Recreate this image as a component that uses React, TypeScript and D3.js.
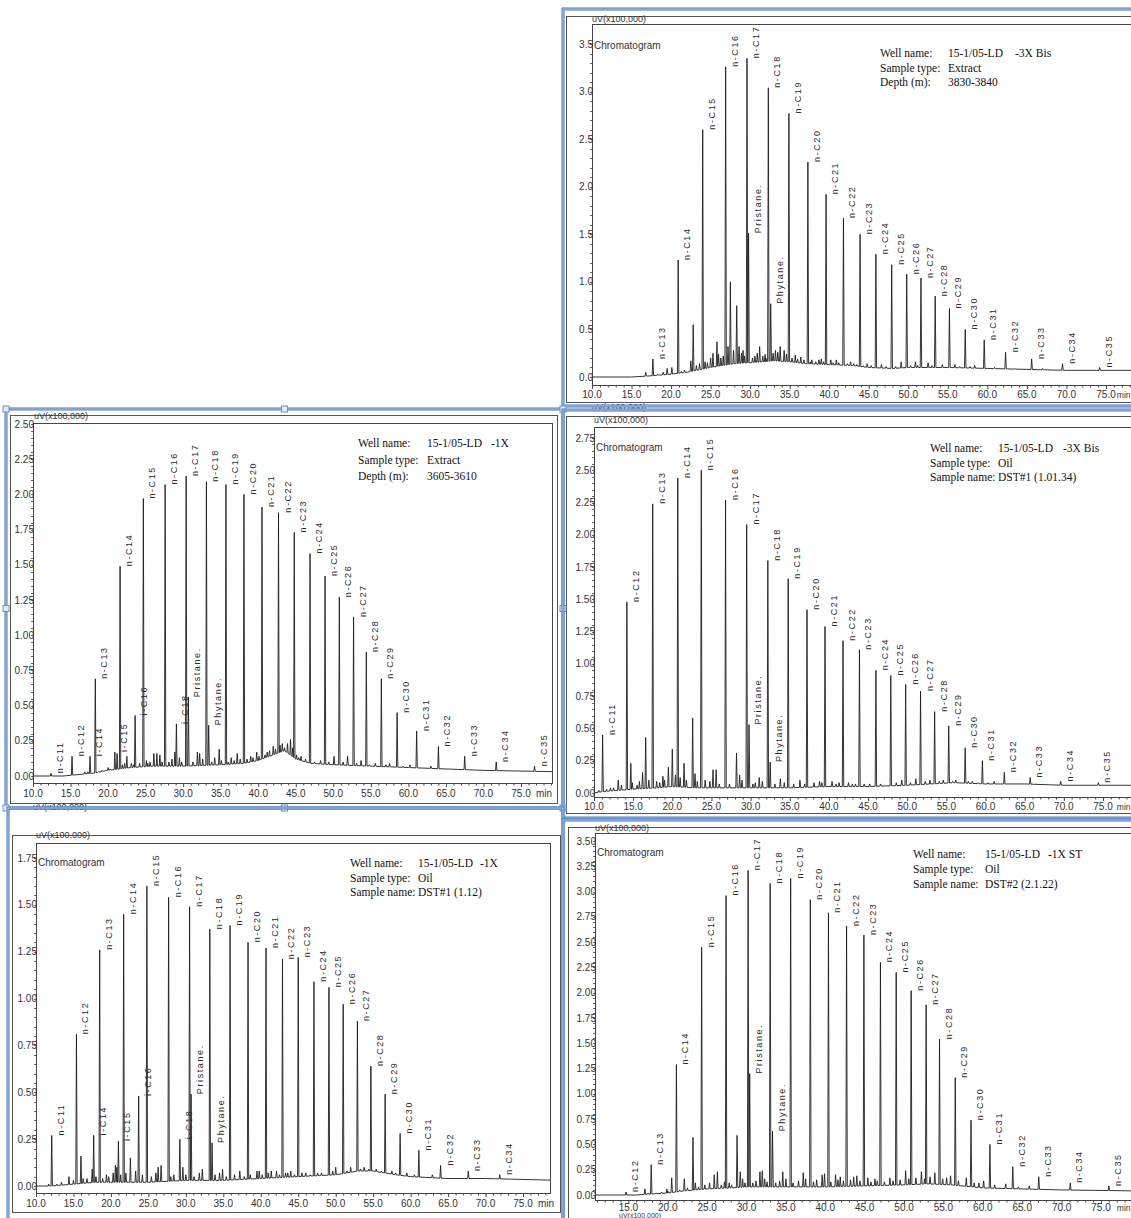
import React, { useEffect, useRef } from 'react';
import * as d3 from 'd3';

type Pt = [number, number];

// ---- Panel A: 15-1/05-LD -3X Bis, extract ----
const aLabels = ['n-C13', 'n-C14', 'n-C15', 'n-C16', 'n-C17', 'Pristane.', 'n-C18', 'Phytane.', 'n-C19', 'n-C20', 'n-C21', 'n-C22', 'n-C23', 'n-C24', 'n-C25', 'n-C26', 'n-C27', 'n-C28', 'n-C29', 'n-C30', 'n-C31', 'n-C32', 'n-C33', 'n-C34', 'n-C35'];
const aTimes = [17.7, 20.9, 24.0, 26.9, 29.6, 29.8, 32.3, 32.6, 34.9, 37.3, 39.6, 41.8, 43.9, 45.9, 47.9, 49.8, 51.6, 53.4, 55.2, 57.2, 59.6, 62.3, 65.6, 69.5, 74.2];
const aHeights = [0.19, 1.23, 2.6, 3.26, 3.35, 1.51, 3.04, 0.77, 2.77, 2.26, 1.92, 1.67, 1.5, 1.29, 1.18, 1.08, 1.04, 0.85, 0.72, 0.5, 0.39, 0.26, 0.19, 0.14, 0.1];
const aMinor: Pt[] = [[16.8, 0.05], [19.5, 0.09], [20.1, 0.1], [22.5, 0.17], [22.8, 0.55], [24.3, 0.16], [25.3, 0.25], [25.8, 0.37], [26.3, 0.2], [27.2, 0.32], [27.5, 1.0], [28.3, 0.75], [28.6, 0.32], [29.1, 0.28], [30.9, 0.25], [31.2, 0.32], [31.6, 0.22], [33.2, 0.28], [33.8, 0.32], [34.3, 0.28], [35.7, 0.23], [36.4, 0.21], [37.8, 0.18], [38.7, 0.18], [39.0, 0.19], [40.2, 0.18], [40.9, 0.18], [42.7, 0.16], [43.1, 0.14], [44.8, 0.14], [46.6, 0.13], [49.1, 0.16], [50.9, 0.16], [52.5, 0.15], [54.3, 0.13], [55.9, 0.13], [58.4, 0.12], [60.9, 0.1], [63.5, 0.09], [67.0, 0.09]];
const aNoise: Pt[] = [[18.3, 0.03], [19.0, 0.05], [21.3, 0.06], [21.7, 0.07], [23.2, 0.12], [23.6, 0.14], [24.6, 0.15], [25.0, 0.2], [26.0, 0.24], [26.6, 0.22], [27.9, 0.28], [28.9, 0.25], [29.3, 0.22], [30.3, 0.2], [30.6, 0.22], [31.9, 0.24], [32.0, 0.2], [32.9, 0.25], [33.5, 0.26], [34.6, 0.24], [35.3, 0.2], [36.0, 0.19], [36.8, 0.18], [37.6, 0.16], [38.3, 0.16], [39.3, 0.16], [40.5, 0.15], [41.2, 0.15], [42.3, 0.14], [43.5, 0.13], [44.3, 0.12], [45.3, 0.12], [47.2, 0.11], [48.4, 0.11], [50.3, 0.12], [51.2, 0.12], [53.0, 0.12], [56.5, 0.11], [57.8, 0.11]];
const aBase: Pt[] = [[10, 0], [15, 0], [17, 0.01], [20, 0.03], [22, 0.05], [25, 0.1], [28, 0.14], [30, 0.15], [33, 0.17], [35, 0.16], [37, 0.14], [40, 0.13], [43, 0.12], [45, 0.1], [48, 0.09], [50, 0.1], [55, 0.1], [60, 0.09], [65, 0.08], [70, 0.07], [80, 0.07]];
const aInfo = [['Well name:', '15-1/05-LD', '-3X Bis'], ['Sample type:', 'Extract'], ['Depth (m):', '3830-3840']];

// ---- Panel B: 15-1/05-LD -1X, extract ----
const bLabels = ['n-C11', 'n-C12', 'i-C14', 'n-C13', 'i-C15', 'n-C14', 'i-C16', 'n-C15', 'n-C16', 'i-C18', 'n-C17', 'Pristane.', 'n-C18', 'Phytane.', 'n-C19', 'n-C20', 'n-C21', 'n-C22', 'n-C23', 'n-C24', 'n-C25', 'n-C26', 'n-C27', 'n-C28', 'n-C29', 'n-C30', 'n-C31', 'n-C32', 'n-C33', 'n-C34', 'n-C35'];
const bTimes = [12.4, 15.2, 17.6, 18.3, 20.9, 21.6, 23.6, 24.7, 27.6, 29.1, 30.4, 30.7, 33.1, 33.4, 35.7, 38.1, 40.5, 42.7, 44.8, 46.9, 48.9, 50.8, 52.7, 54.4, 56.4, 58.5, 61.1, 64.0, 67.5, 71.7, 76.8];
const bHeights = [0.02, 0.14, 0.14, 0.69, 0.17, 1.49, 0.43, 1.97, 2.07, 0.37, 2.13, 0.56, 2.09, 0.36, 2.07, 2.0, 1.91, 1.87, 1.73, 1.58, 1.42, 1.27, 1.13, 0.88, 0.69, 0.45, 0.32, 0.21, 0.14, 0.1, 0.07];
const bMinor: Pt[] = [[16.9, 0.03], [19.7, 0.04], [20.3, 0.05], [21.2, 0.16], [22.5, 0.14], [23.1, 0.09], [25.1, 0.11], [25.6, 0.1], [26.1, 0.16], [26.5, 0.16], [26.9, 0.15], [28.9, 0.17], [29.5, 0.13], [31.9, 0.17], [32.2, 0.16], [34.2, 0.13], [34.8, 0.19], [36.4, 0.13], [37.2, 0.16], [39.0, 0.14], [39.8, 0.17], [41.5, 0.18], [42.0, 0.21], [43.2, 0.23], [43.9, 0.23], [44.3, 0.26], [45.7, 0.14], [46.3, 0.12], [48.3, 0.11], [50.1, 0.14], [51.9, 0.14], [53.7, 0.11], [55.6, 0.09], [57.5, 0.09], [60.2, 0.08], [63.0, 0.07]];
const bNoise: Pt[] = [[17.3, 0.03], [18.7, 0.03], [19.2, 0.04], [20.0, 0.06], [21.9, 0.08], [22.2, 0.09], [23.4, 0.08], [24.2, 0.09], [25.3, 0.09], [27.2, 0.1], [28.1, 0.1], [28.5, 0.12], [29.8, 0.1], [31.3, 0.1], [32.6, 0.12], [33.8, 0.1], [35.1, 0.11], [36.0, 0.1], [36.8, 0.11], [37.6, 0.12], [38.5, 0.12], [39.3, 0.13], [40.1, 0.14], [40.9, 0.15], [41.2, 0.17], [42.3, 0.19], [42.9, 0.22], [43.5, 0.2], [44.6, 0.2], [45.1, 0.15], [45.4, 0.13], [47.5, 0.1], [49.4, 0.1], [51.3, 0.1], [53.1, 0.09], [54.8, 0.08], [57.0, 0.08], [59.3, 0.07]];
const bBase: Pt[] = [[10, 0], [14, 0], [16, 0.01], [18, 0.02], [20, 0.04], [23, 0.06], [26, 0.07], [30, 0.07], [35, 0.08], [38, 0.09], [40, 0.11], [42, 0.15], [43.5, 0.18], [45, 0.12], [47, 0.09], [50, 0.08], [55, 0.07], [60, 0.06], [65, 0.05], [70, 0.04], [80, 0.03]];
const bInfo = [['Well name:', '15-1/05-LD', '-1X'], ['Sample type:', 'Extract'], ['Depth (m):', '3605-3610']];

// ---- Panel C: 15-1/05-LD -3X Bis, oil DST#1 ----
const cLabels = ['n-C11', 'n-C12', 'n-C13', 'n-C14', 'n-C15', 'n-C16', 'n-C17', 'Pristane.', 'n-C18', 'Phytane.', 'n-C19', 'n-C20', 'n-C21', 'n-C22', 'n-C23', 'n-C24', 'n-C25', 'n-C26', 'n-C27', 'n-C28', 'n-C29', 'n-C30', 'n-C31', 'n-C32', 'n-C33', 'n-C34', 'n-C35'];
const cTimes = [11.1, 14.2, 17.5, 20.7, 23.7, 26.8, 29.5, 29.8, 32.2, 32.5, 34.8, 37.2, 39.5, 41.8, 43.9, 46.0, 47.9, 49.8, 51.7, 53.5, 55.3, 57.4, 59.6, 62.4, 65.7, 69.6, 74.4];
const cHeights = [0.45, 1.48, 2.24, 2.44, 2.5, 2.27, 2.08, 0.53, 1.8, 0.24, 1.66, 1.42, 1.29, 1.18, 1.11, 0.95, 0.91, 0.84, 0.79, 0.63, 0.52, 0.35, 0.25, 0.16, 0.12, 0.09, 0.08];
const cMinor: Pt[] = [[12.1, 0.04], [13.1, 0.1], [13.5, 0.06], [14.7, 0.23], [15.5, 0.06], [16.2, 0.16], [16.6, 0.43], [18.0, 0.09], [18.8, 0.13], [19.5, 0.2], [20.0, 0.34], [20.4, 0.14], [21.5, 0.23], [22.6, 0.58], [22.9, 0.15], [25.2, 0.18], [25.6, 0.18], [28.2, 0.31], [28.6, 0.14], [31.1, 0.12], [33.8, 0.11], [36.3, 0.1], [38.8, 0.09], [40.4, 0.09], [42.5, 0.08], [43.0, 0.07], [45.2, 0.07], [49.3, 0.1], [51.1, 0.11], [52.9, 0.1], [54.6, 0.1], [56.2, 0.1], [58.3, 0.09], [61.1, 0.09]];
const cNoise: Pt[] = [[10.6, 0.02], [11.6, 0.03], [12.5, 0.04], [14.9, 0.08], [15.8, 0.09], [17.0, 0.1], [18.4, 0.08], [19.0, 0.1], [21.0, 0.12], [21.8, 0.1], [23.2, 0.09], [24.2, 0.1], [24.8, 0.09], [26.0, 0.07], [27.3, 0.07], [28.9, 0.1], [30.3, 0.07], [30.6, 0.08], [31.5, 0.09], [33.1, 0.07], [34.3, 0.08], [35.5, 0.07], [36.9, 0.07], [38.1, 0.08], [39.1, 0.08], [40.9, 0.07], [41.3, 0.08], [43.4, 0.07], [44.5, 0.07], [46.6, 0.07], [48.6, 0.08], [50.4, 0.08], [52.3, 0.09], [54.1, 0.09], [55.8, 0.09], [57.8, 0.09], [59.1, 0.08], [60.3, 0.08]];
const cBase: Pt[] = [[10, 0], [11, 0.01], [13, 0.02], [15, 0.03], [18, 0.04], [20, 0.05], [23, 0.04], [26, 0.04], [30, 0.04], [35, 0.04], [40, 0.05], [45, 0.05], [50, 0.06], [53, 0.07], [56, 0.08], [60, 0.07], [65, 0.07], [70, 0.06], [80, 0.06]];
const cInfo = [['Well name:', '15-1/05-LD', '-3X Bis'], ['Sample type:', 'Oil'], ['Sample name:', 'DST#1 (1.01.34)']];

// ---- Panel D: 15-1/05-LD -1X, oil DST#1 ----
const dLabels = ['n-C11', 'n-C12', 'i-C14', 'n-C13', 'i-C15', 'n-C14', 'i-C16', 'n-C15', 'n-C16', 'i-C18', 'n-C17', 'Pristane.', 'n-C18', 'Phytane.', 'n-C19', 'n-C20', 'n-C21', 'n-C22', 'n-C23', 'n-C24', 'n-C25', 'n-C26', 'n-C27', 'n-C28', 'n-C29', 'n-C30', 'n-C31', 'n-C32', 'n-C33', 'n-C34'];
const dTimes = [12.1, 15.4, 17.7, 18.5, 21.0, 21.7, 23.7, 24.8, 27.7, 29.2, 30.5, 30.7, 33.2, 33.5, 35.9, 38.3, 40.7, 42.9, 45.0, 47.1, 49.1, 51.0, 52.9, 54.7, 56.6, 58.6, 61.1, 64.0, 67.7, 71.9];
const dHeights = [0.27, 0.81, 0.27, 1.26, 0.24, 1.45, 0.48, 1.6, 1.54, 0.25, 1.49, 0.49, 1.37, 0.23, 1.39, 1.3, 1.27, 1.21, 1.22, 1.09, 1.06, 0.97, 0.88, 0.64, 0.49, 0.28, 0.19, 0.11, 0.08, 0.06];
const dMinor: Pt[] = [[11.7, 0.01], [14.4, 0.05], [16.0, 0.16], [16.8, 0.04], [17.5, 0.09], [19.4, 0.06], [20.3, 0.07], [20.6, 0.11], [20.8, 0.1], [22.6, 0.15], [23.3, 0.08], [26.3, 0.1], [26.7, 0.11], [29.6, 0.1], [32.2, 0.09], [34.9, 0.09], [37.2, 0.08], [39.5, 0.08], [39.8, 0.08], [41.4, 0.08], [42.1, 0.08], [43.6, 0.07], [44.0, 0.08], [46.0, 0.07], [48.1, 0.07], [50.0, 0.1], [52.0, 0.1], [53.8, 0.1], [55.4, 0.09], [57.5, 0.08], [59.5, 0.07], [62.9, 0.06]];
const dNoise: Pt[] = [[12.8, 0.01], [13.4, 0.02], [15.0, 0.03], [16.3, 0.04], [18.0, 0.05], [18.9, 0.04], [19.7, 0.05], [21.3, 0.06], [22.0, 0.07], [24.2, 0.06], [25.4, 0.05], [26.0, 0.07], [28.0, 0.05], [28.4, 0.06], [30.0, 0.06], [31.1, 0.05], [31.8, 0.07], [33.9, 0.06], [34.5, 0.07], [35.4, 0.05], [36.5, 0.06], [37.8, 0.05], [38.6, 0.06], [40.2, 0.06], [41.0, 0.07], [42.5, 0.06], [43.3, 0.07], [44.5, 0.06], [45.5, 0.07], [46.6, 0.06], [47.6, 0.07], [49.6, 0.08], [51.5, 0.08], [53.3, 0.09], [54.4, 0.09], [56.1, 0.08], [58.0, 0.07], [60.5, 0.06]];
const dBase: Pt[] = [[10, 0], [12, 0], [15, 0.01], [18, 0.02], [20, 0.02], [25, 0.02], [30, 0.03], [35, 0.03], [40, 0.04], [45, 0.05], [50, 0.06], [53, 0.08], [55, 0.08], [58, 0.06], [60, 0.05], [65, 0.04], [70, 0.04], [80, 0.03]];
const dInfo = [['Well name:', '15-1/05-LD', '-1X'], ['Sample type:', 'Oil'], ['Sample name:', 'DST#1 (1.12)']];

// ---- Panel E: 15-1/05-LD -1X ST, oil DST#2 ----
const eLabels = ['n-C12', 'n-C13', 'n-C14', 'n-C15', 'n-C16', 'n-C17', 'Pristane.', 'n-C18', 'Phytane.', 'n-C19', 'n-C20', 'n-C21', 'n-C22', 'n-C23', 'n-C24', 'n-C25', 'n-C26', 'n-C27', 'n-C28', 'n-C29', 'n-C30', 'n-C31', 'n-C32', 'n-C33', 'n-C34', 'n-C35'];
const eTimes = [14.7, 17.9, 21.1, 24.3, 27.4, 30.2, 30.4, 33.0, 33.3, 35.6, 38.1, 40.4, 42.7, 44.9, 47.0, 49.0, 50.9, 52.8, 54.5, 56.5, 58.5, 60.9, 63.8, 67.1, 71.1, 76.0];
const eHeights = [0.03, 0.3, 1.29, 2.45, 2.96, 3.21, 1.2, 3.08, 0.63, 3.13, 2.92, 2.79, 2.66, 2.57, 2.3, 2.2, 2.02, 1.88, 1.54, 1.16, 0.74, 0.5, 0.28, 0.18, 0.12, 0.09];
const eMinor: Pt[] = [[17.1, 0.06], [19.2, 0.03], [19.9, 0.06], [20.5, 0.17], [22.1, 0.16], [23.2, 0.57], [23.5, 0.12], [25.9, 0.2], [26.3, 0.23], [27.8, 0.12], [28.8, 0.59], [29.2, 0.23], [29.5, 0.16], [31.7, 0.23], [32.0, 0.24], [32.3, 0.16], [34.6, 0.23], [35.0, 0.16], [37.2, 0.22], [37.5, 0.16], [39.6, 0.2], [39.9, 0.21], [41.3, 0.2], [41.9, 0.18], [43.6, 0.18], [44.0, 0.19], [45.4, 0.17], [46.3, 0.16], [48.2, 0.17], [50.2, 0.24], [52.2, 0.23], [53.9, 0.22], [55.9, 0.19], [57.9, 0.17], [60.1, 0.14], [62.9, 0.11], [65.9, 0.09]];
const eNoise: Pt[] = [[17.5, 0.02], [18.5, 0.02], [20.0, 0.04], [21.5, 0.05], [22.5, 0.07], [23.9, 0.08], [24.7, 0.1], [25.3, 0.12], [26.8, 0.1], [27.2, 0.13], [28.1, 0.1], [29.8, 0.12], [30.8, 0.12], [31.2, 0.14], [32.6, 0.13], [33.7, 0.12], [34.2, 0.14], [35.9, 0.12], [36.6, 0.14], [38.5, 0.13], [38.9, 0.15], [40.7, 0.13], [41.6, 0.15], [42.3, 0.14], [43.2, 0.15], [44.4, 0.14], [45.8, 0.13], [46.6, 0.14], [47.5, 0.13], [48.6, 0.14], [49.5, 0.15], [50.6, 0.16], [51.5, 0.17], [52.6, 0.16], [53.3, 0.18], [54.9, 0.16], [55.4, 0.17], [56.9, 0.14], [58.9, 0.12], [59.5, 0.12], [61.5, 0.1], [64.5, 0.08]];
const eBase: Pt[] = [[10.7, 0], [16, 0], [18, 0.01], [20, 0.02], [22, 0.04], [25, 0.06], [28, 0.07], [30, 0.08], [35, 0.08], [40, 0.08], [45, 0.09], [50, 0.1], [53, 0.11], [56, 0.1], [60, 0.07], [65, 0.06], [70, 0.05], [80, 0.04]];
const eInfo = [['Well name:', '15-1/05-LD', '-1X ST'], ['Sample type:', 'Oil'], ['Sample name:', 'DST#2 (2.1.22)']];

const xTickValues = d3.range(10, 76, 5);

const NARROW = "'Liberation Sans Narrow','Arial Narrow','Liberation Sans',sans-serif";
const SANS = "'Liberation Sans',Arial,sans-serif";
const SERIF = "'Liberation Serif','Times New Roman',serif";

// layout per panel (pixel positions of the screenshot)
const panels = [
  {
    labels: aLabels, times: aTimes, heights: aHeights, minor: [...aMinor, ...aNoise], base: aBase, info: aInfo,
    blue: [563, 9, 1170, 406], frame: [566, 16, 1170, 402], plot: [592, 24, 1170, 385], labelDy: 13,
    x10: 592, x75: 1106, tStart: 10, y0: 377, yMax: 3.5, yTop: 44, yStep: 0.5, yFmt: '.1f',
    chrom: [594, 49], uv: [592, 22], rest: [592, 410], infoPos: [880, 948, 1015, 57, 14.5],
  },
  {
    labels: bLabels, times: bTimes, heights: bHeights, minor: [...bMinor, ...bNoise], base: bBase, info: bInfo,
    blue: [6, 409, 563, 808], frame: [10, 415, 557, 803], plot: [33, 423, 552, 783], labelDy: 13.5,
    x10: 33, x75: 521, tStart: 10, y0: 776, yMax: 2.5, yTop: 424, yStep: 0.25, yFmt: '.2f',
    chrom: null, uv: [34, 419], rest: [33, 810], infoPos: [358, 427, 491, 447, 16.5], handles: true,
  },
  {
    labels: cLabels, times: cTimes, heights: cHeights, minor: [...cMinor, ...cNoise], base: cBase, info: cInfo,
    blue: [563, 410, 1170, 818], frame: [566, 416, 1170, 813], plot: [594, 427, 1170, 797], labelDy: 13,
    x10: 594, x75: 1103, tStart: 10, y0: 793, yMax: 2.75, yTop: 438, yStep: 0.25, yFmt: '.2f',
    chrom: [596, 451], uv: [594, 423], rest: null, infoPos: [930, 998, 1063, 452, 14.5],
  },
  {
    labels: dLabels, times: dTimes, heights: dHeights, minor: [...dMinor, ...dNoise], base: dBase, info: dInfo,
    blue: [8, 808, 563, 1240], frame: [12, 835, 560, 1212], plot: [36, 843, 550, 1193], labelDy: 13.5,
    x10: 36, x75: 523, tStart: 10, y0: 1186, yMax: 1.75, yTop: 858, yStep: 0.25, yFmt: '.2f',
    chrom: [38, 866], uv: [36, 838], rest: null, infoPos: [350, 418, 480, 867, 14.5],
  },
  {
    labels: eLabels, times: eTimes, heights: eHeights, minor: [...eMinor, ...eNoise], base: eBase, info: eInfo,
    blue: [563, 820, 1170, 1240], frame: [568, 827, 1170, 1240], plot: [595, 833, 1170, 1200], labelDy: 10.5,
    x10: 589, x75: 1101, tStart: 10.7, y0: 1195, yMax: 3.5, yTop: 841, yStep: 0.25, yFmt: '.2f',
    chrom: [597, 856], uv: [595, 831], rest: [640, 1218], infoPos: [913, 985, 1048, 858, 15],
  },
];

const App = () => {
  const ref = useRef<SVGSVGElement>(null);

  useEffect(() => {
    const svg = d3.select(ref.current);
    svg.selectAll('*').remove();
    svg.append('rect').attr('width', 1131).attr('height', 1218).attr('fill', '#fff');

    panels.forEach((p, pi) => {
      const g = svg.append('g');
      const x = d3.scaleLinear().domain([10, 75]).range([p.x10, p.x75]);
      const y = d3.scaleLinear().domain([0, p.yMax]).range([p.y0, p.yTop]);
      const [pl, pt, pr, pb] = p.plot;
      const [fx0, fy0, fx1, fy1] = p.frame;

      // outer black frame
      g.append('rect')
        .attr('x', fx0 + 0.5).attr('y', fy0 + 0.5)
        .attr('width', fx1 - fx0).attr('height', fy1 - fy0)
        .attr('fill', 'none').attr('stroke', '#555').attr('stroke-width', 1);

      // plot box
      g.append('rect')
        .attr('x', pl + 0.5).attr('y', pt + 0.5)
        .attr('width', pr - pl).attr('height', pb - pt)
        .attr('fill', 'none').attr('stroke', '#444').attr('stroke-width', 1);

      // unit labels
      g.append('text').attr('x', p.uv[0]).attr('y', p.uv[1])
        .style('font-family', NARROW).style('font-size', '9px').attr('fill', '#333')
        .text('uV(x100,000)');
      if (p.rest) {
        g.append('text').attr('x', p.rest[0]).attr('y', p.rest[1])
          .attr('text-anchor', pi === 4 ? 'middle' : 'start')
          .style('font-family', NARROW).style('font-size', pi === 4 ? '7px' : '9px').attr('fill', '#333')
          .text('uV(x100,000)');
      }
      if (p.chrom) {
        g.append('text').attr('x', p.chrom[0]).attr('y', p.chrom[1])
          .style('font-family', NARROW).style('font-size', '10px').attr('fill', '#333')
          .text('Chromatogram');
      }

      // x axis ticks
      const minorX = d3.range(Math.ceil(p.tStart), 80, 1).filter(t => x(t) < pr);
      g.selectAll('.xm').data(minorX).enter().append('line')
        .attr('x1', d => x(d) + 0.5).attr('x2', d => x(d) + 0.5)
        .attr('y1', pb).attr('y2', d => pb + (d % 5 === 0 ? 4 : 2.5))
        .attr('stroke', '#444').attr('stroke-width', 1);
      g.selectAll('.xl').data(xTickValues.filter(t => t >= p.tStart + 0.5 || t === p.tStart)).enter().append('text')
        .attr('x', d => x(d)).attr('y', pb + p.labelDy)
        .attr('text-anchor', 'middle')
        .style('font-family', NARROW).style('font-size', '10px').attr('fill', '#333')
        .text(d => d3.format('.1f')(d));
      const minX = x(75) + 23;
      const minFits = minX + 8 < 1131;
      g.append('text').attr('x', minFits ? minX : 1130.5).attr('y', pb + p.labelDy)
        .attr('text-anchor', minFits ? 'middle' : 'end')
        .style('font-family', NARROW).style('font-size', minFits ? '10px' : '8.5px').attr('fill', '#333')
        .text('min');

      // y axis ticks
      const minorY = d3.range(0, p.yMax + 1e-6, p.yStep / 5);
      g.selectAll('.ym').data(minorY).enter().append('line')
        .attr('x1', pl - 2).attr('x2', pl)
        .attr('y1', d => Math.round(y(d)) + 0.5).attr('y2', d => Math.round(y(d)) + 0.5)
        .attr('stroke', '#666').attr('stroke-width', 1);
      g.selectAll('.yl').data(d3.range(0, p.yMax + 1e-6, p.yStep)).enter().append('text')
        .attr('x', pl + 1).attr('y', d => y(d) + 3.5)
        .attr('text-anchor', 'end')
        .style('font-family', NARROW).style('font-size', '10px').attr('fill', '#333')
        .text(d => d3.format(p.yFmt)(d));

      // trace: baseline plus narrow peaks
      const clipId = `clip-${pi}`;
      svg.append('clipPath').attr('id', clipId).append('rect')
        .attr('x', pl + 1).attr('y', pt + 1).attr('width', pr - pl - 1).attr('height', pb - pt - 1);

      const bl = d3.scaleLinear().domain(p.base.map(d => d[0])).range(p.base.map(d => d[1])).clamp(true);
      const peaks: Pt[] = [...p.times.map((t, i) => [t, p.heights[i]] as Pt), ...p.minor]
        .sort((a, b) => a[0] - b[0]);
      const w = 0.09;
      const pts: Pt[] = p.base.filter(b => peaks.every(q => Math.abs(q[0] - b[0]) > w));
      peaks.forEach(([t, h]) => {
        pts.push([t - w, bl(t - w)], [t, h], [t + w, bl(t + w)]);
      });
      pts.sort((a, b) => a[0] - b[0]);
      const line = d3.line<Pt>().x(d => x(d[0])).y(d => y(d[1]));
      g.append('path')
        .attr('clip-path', `url(#${clipId})`)
        .attr('d', line(pts))
        .attr('fill', 'none').attr('stroke', '#1e1e1e').attr('stroke-width', 0.9)
        .attr('stroke-linejoin', 'miter');

      // peak labels
      g.selectAll('.pk').data(p.labels).enter().append('text')
        .attr('transform', (d, i) => `translate(${x(p.times[i]) + 12},${y(p.heights[i])}) rotate(-90)`)
        .style('font-family', SANS).style('font-size', '9px').style('letter-spacing', '1.6px')
        .attr('fill', '#2a2a2a')
        .text(d => d);

      // sample info block
      const [c1, c2, c3, r0, dy] = p.infoPos;
      p.info.forEach((row, i) => {
        const ty = r0 + i * dy;
        [c1, c2, c3].forEach((cx, j) => {
          if (!row[j]) return;
          g.append('text').attr('x', cx).attr('y', ty)
            .style('font-family', SERIF).style('font-size', '11.5px').attr('fill', '#111')
            .text(row[j]);
        });
      });
    });

    // blue selection borders on top
    panels.forEach(p => {
      const [bx0, by0, bx1, by1] = p.blue;
      svg.append('rect')
        .attr('x', bx0).attr('y', by0).attr('width', bx1 - bx0).attr('height', by1 - by0)
        .attr('fill', 'none').attr('stroke', '#4a78c2').attr('stroke-width', 3);
      svg.append('rect')
        .attr('x', bx0).attr('y', by0).attr('width', bx1 - bx0).attr('height', by1 - by0)
        .attr('fill', 'none').attr('stroke', '#d6e2f4').attr('stroke-width', 0.8);
      if (p.handles) {
        const hx = [bx0, (bx0 + bx1) / 2, bx1];
        const hy = [by0, (by0 + by1) / 2, by1];
        hx.forEach((cx, i) => hy.forEach((cy, j) => {
          if (i === 1 && j === 1) return;
          svg.append('rect')
            .attr('x', cx - 3).attr('y', cy - 3).attr('width', 6).attr('height', 6)
            .attr('fill', '#e4ecf8').attr('stroke', '#6b91cc').attr('stroke-width', 1);
        }));
      }
    });
  }, []);

  return (
    <svg
      ref={ref}
      width={1131}
      height={1218}
      style={{ position: 'absolute', left: 0, top: 0, display: 'block' }}
    />
  );
};

export default App;
